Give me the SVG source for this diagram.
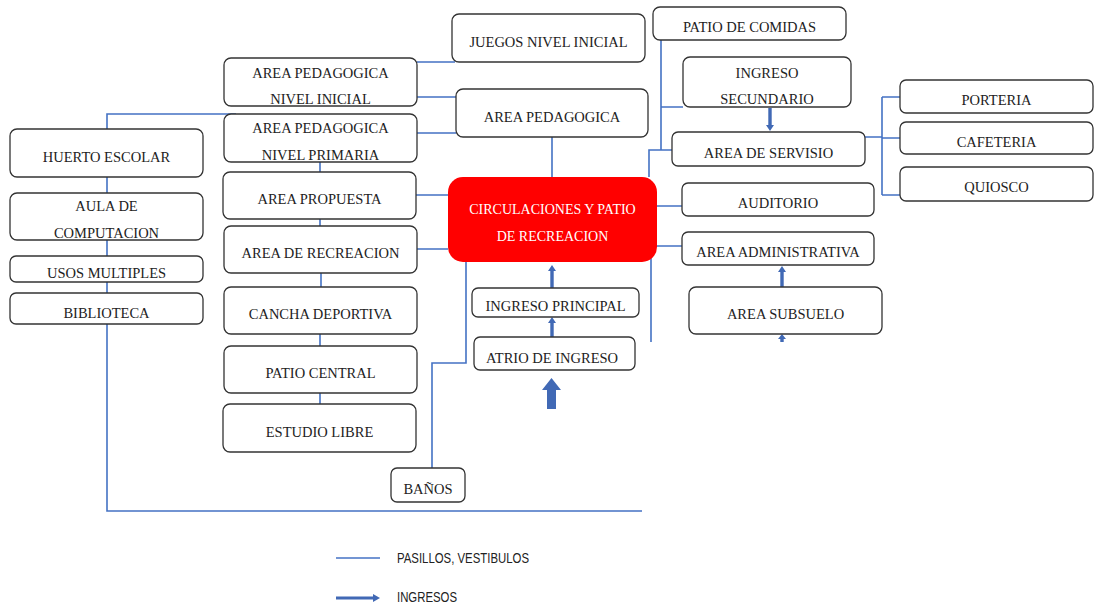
<svg xmlns="http://www.w3.org/2000/svg" width="1096" height="607" viewBox="0 0 1096 607">
<style>
.box{fill:#fff;stroke:#333;stroke-width:1.3}
.red{fill:#ff0000;stroke:none}
.t{font-family:"Liberation Serif","Times New Roman",serif;font-size:14.5px;fill:#222;text-anchor:middle}
.tw{font-family:"Liberation Serif","Times New Roman",serif;font-size:14px;fill:#fff;text-anchor:middle}
.lk{fill:none;stroke:#4472C4;stroke-width:1.6}
.ing{fill:#4169B5;stroke:none}
.lg{font-family:"Liberation Sans",Arial,sans-serif;font-size:14px;fill:#222}
</style>
<rect width="1096" height="607" fill="#fff"/>
<g id="connectors">
<path class="lk" d="M417,62 H455 M417,97 H456 M417,133 H456 M107,129 V114 H236 M107,177 V193 M107,240 V256 M107,282 V293 M107,324 V511 H642 M320,162 V172 M320,219 V226 M321,273 V287 M320,334 V346 M320,393 V404 M416,195 H448 M417,249 H448 M552,137 V177 M466,262 V363 H432 V468 M651,258 V342 M649,177 V150 H672 M661,40 V150 M661,107 H683 M865,137 H882 M882,97 V195 M882,97 H900 M882,138 H900 M882,195 H900 M657,206 H682 M657,246 H682"/>
<path class="ing" d="M768.3,108 H771.7 V125 H774 L770,131 L766,125 H768.3 Z"/>
<path class="ing" d="M780.3,287 H783.7 V272 H786 L782,266 L778,272 H780.3 Z"/>
<path class="ing" d="M780.3,342 H783.7 V339 H786 L782,334 L778,339 H780.3 Z"/>
<path class="ing" d="M550.3,288 H553.7 V271 H556 L552,265 L548,271 H550.3 Z"/>
<path class="ing" d="M550.3,337 H553.7 V323 H556 L552,317 L548,323 H550.3 Z"/>
<path class="ing" d="M547,409 H556 V390 H561 L551.5,378 L542,390 H547 Z"/>
</g>
<g id="n_juegos"><rect class="box" x="452" y="14" width="193" height="48" rx="7"/><text class="t" x="548.5" y="47">JUEGOS NIVEL INICIAL</text></g>
<g id="n_patio_comidas"><rect class="box" x="653" y="7" width="193" height="33" rx="7"/><text class="t" x="749.5" y="32">PATIO DE COMIDAS</text></g>
<g id="n_ap_inicial"><rect class="box" x="224" y="58" width="193" height="48" rx="7"/><text class="t" x="320.5" y="78">AREA PEDAGOGICA</text><text class="t" x="320.5" y="104">NIVEL INICIAL</text></g>
<g id="n_ap_primaria"><rect class="box" x="224" y="114" width="193" height="48" rx="7"/><text class="t" x="320.5" y="133">AREA PEDAGOGICA</text><text class="t" x="320.5" y="160">NIVEL PRIMARIA</text></g>
<g id="n_huerto"><rect class="box" x="10" y="129" width="193" height="48" rx="7"/><text class="t" x="106.5" y="162">HUERTO ESCOLAR</text></g>
<g id="n_ap"><rect class="box" x="456" y="89" width="192" height="48" rx="7"/><text class="t" x="552" y="122">AREA PEDAGOGICA</text></g>
<g id="n_ing_sec"><rect class="box" x="683" y="57" width="168" height="50" rx="7"/><text class="t" x="767" y="78">INGRESO</text><text class="t" x="767" y="104">SECUNDARIO</text></g>
<g id="n_servisio"><rect class="box" x="672" y="132" width="193" height="34" rx="6"/><text class="t" x="768.5" y="158">AREA DE SERVISIO</text></g>
<g id="n_porteria"><rect class="box" x="900" y="80" width="193" height="33" rx="6"/><text class="t" x="996.5" y="105">PORTERIA</text></g>
<g id="n_cafeteria"><rect class="box" x="900" y="122" width="193" height="32" rx="6"/><text class="t" x="996.5" y="147">CAFETERIA</text></g>
<g id="n_quiosco"><rect class="box" x="900" y="167" width="193" height="34" rx="6"/><text class="t" x="996.5" y="192">QUIOSCO</text></g>
<g id="n_auditorio"><rect class="box" x="682" y="183" width="192" height="33" rx="6"/><text class="t" x="778" y="208">AUDITORIO</text></g>
<g id="n_admin"><rect class="box" x="682" y="232" width="192" height="33" rx="6"/><text class="t" x="778" y="257">AREA ADMINISTRATIVA</text></g>
<g id="n_subsuelo"><rect class="box" x="689" y="287" width="193" height="47" rx="7"/><text class="t" x="785.5" y="319">AREA SUBSUELO</text></g>
<g id="n_centro"><rect class="red" x="448" y="177" width="209" height="85" rx="15"/><text class="tw" x="552.5" y="214">CIRCULACIONES Y PATIO</text><text class="tw" x="552.5" y="241">DE RECREACION</text></g>
<g id="n_propuesta"><rect class="box" x="223" y="172" width="193" height="47" rx="7"/><text class="t" x="319.5" y="204">AREA PROPUESTA</text></g>
<g id="n_recreacion"><rect class="box" x="224" y="226" width="193" height="47" rx="7"/><text class="t" x="320.5" y="258">AREA DE RECREACION</text></g>
<g id="n_aula"><rect class="box" x="10" y="193" width="193" height="47" rx="7"/><text class="t" x="106.5" y="211">AULA DE</text><text class="t" x="106.5" y="238">COMPUTACION</text></g>
<g id="n_usos"><rect class="box" x="10" y="256" width="193" height="26" rx="6"/><text class="t" x="106.5" y="278">USOS MULTIPLES</text></g>
<g id="n_biblioteca"><rect class="box" x="10" y="293" width="193" height="31" rx="6"/><text class="t" x="106.5" y="318">BIBLIOTECA</text></g>
<g id="n_cancha"><rect class="box" x="224" y="287" width="193" height="47" rx="7"/><text class="t" x="320.5" y="319">CANCHA DEPORTIVA</text></g>
<g id="n_patio_central"><rect class="box" x="224" y="346" width="193" height="47" rx="7"/><text class="t" x="320.5" y="378">PATIO CENTRAL</text></g>
<g id="n_estudio"><rect class="box" x="223" y="404" width="193" height="48" rx="7"/><text class="t" x="319.5" y="437">ESTUDIO LIBRE</text></g>
<g id="n_banos"><rect class="box" x="391" y="468" width="74" height="34" rx="6"/><text class="t" x="428" y="494">BAÑOS</text></g>
<g id="n_ing_principal"><rect class="box" x="472" y="288" width="167" height="29" rx="6"/><text class="t" x="555.5" y="311">INGRESO PRINCIPAL</text></g>
<g id="n_atrio"><rect class="box" x="474" y="337" width="161" height="33" rx="6"/><text class="t" x="552" y="363">ATRIO DE INGRESO</text></g>
<g id="legend">
<path class="lk" d="M336,558 H380"/>
<text class="lg" x="397" y="563" textLength="132" lengthAdjust="spacingAndGlyphs">PASILLOS, VESTIBULOS</text>
<path class="ing" d="M336,596.5 H373 V594 L380,598 L373,602 V599.5 H336 Z"/>
<text class="lg" x="397" y="602" textLength="60" lengthAdjust="spacingAndGlyphs">INGRESOS</text>
</g>
</svg>
